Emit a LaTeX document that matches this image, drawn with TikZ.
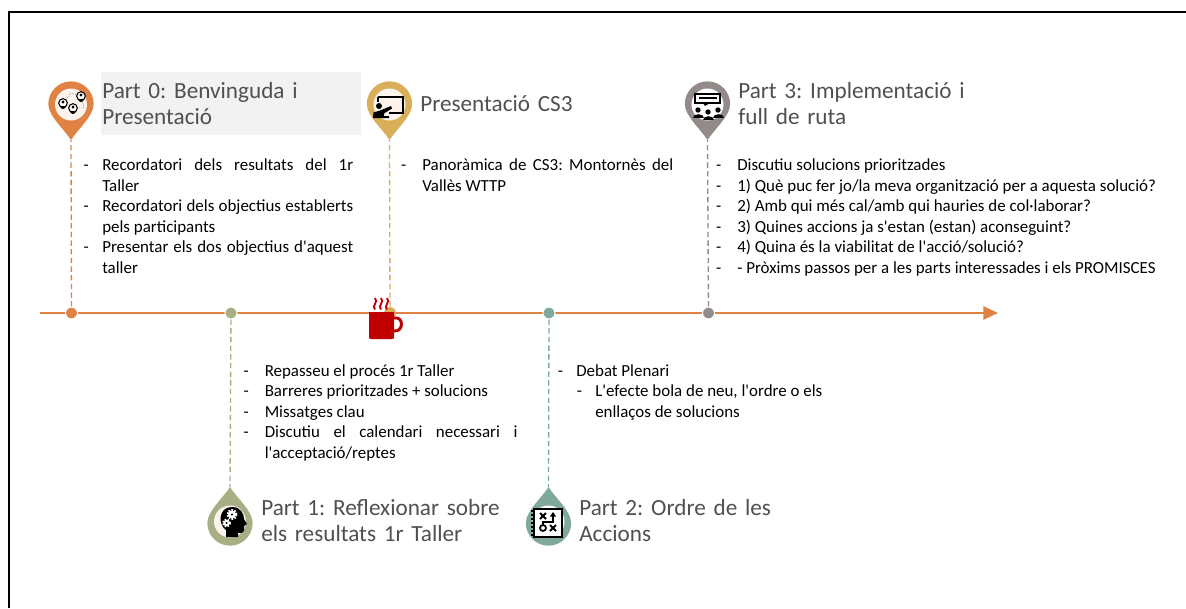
\documentclass[tikz,border=0pt]{standalone}
\usepackage{fontspec}
\setmainfont{Carlito}
\usetikzlibrary{arrows.meta}

\definecolor{orangepin}{HTML}{DF8244}
\definecolor{goldpin}{HTML}{D8AE58}
\definecolor{olivepin}{HTML}{A9AF84}
\definecolor{tealpin}{HTML}{7FA99B}
\definecolor{greypin}{HTML}{938A8A}
\definecolor{titlegrey}{HTML}{505050}
\definecolor{cupred}{HTML}{C00000}
\definecolor{facecol}{HTML}{FBF3EC}

\newenvironment{dashlist}[1][12pt]{\begin{list}{-}{\setlength{\leftmargin}{22.5pt}\setlength{\labelwidth}{10pt}\setlength{\labelsep}{#1}\setlength{\itemsep}{0pt}\setlength{\parsep}{0pt}\setlength{\topsep}{0pt}\setlength{\partopsep}{0pt}\setlength{\rightmargin}{0pt}}\fontsize{12.7}{15.4}\selectfont\frenchspacing\hyphenpenalty=10000\sloppy}{\end{list}}
\newcommand{\apos}{\textquotesingle}

\tikzset{
	heading/.style={anchor=north west,inner sep=0pt,text width=#1,align=left,font=\fontsize{17.4}{19.5}\selectfont\frenchspacing,text=titlegrey},
	listnode/.style={anchor=north west,inner sep=0pt,text width=#1,align=justify},
	tick/.style={circle,fill=#1,draw=white,line width=.8pt,inner sep=0pt,minimum size=9pt},
	stem/.style={draw=#1,line width=1pt,dash pattern=on 4pt off 2.5pt},
	face/.style={circle,fill=facecol,inner sep=0pt,minimum size=24pt}
}

% pin with its tip at #2, #3=1 for the body above the tip, #3=-1 for below
\newcommand{\pinshape}[3]{
	\fill[#1] (#2) .. controls +(-5pt,#3*8pt) and +(0,#3*-9pt) .. ++(-17pt,#3*27pt)
		arc[start angle=180,delta angle=-180,x radius=17pt,y radius=#3*17pt]
		.. controls +(0,#3*-9pt) and +(5pt,#3*8pt) .. (#2) -- cycle;
}

\begin{document}
\begin{tikzpicture}[x=.75pt,y=-.75pt]
\useasboundingbox (0,0) rectangle (1186,608);
\draw[black,line width=1.5pt] (9,608) -- (9,12) -- (1186,12);

\fill[black!5] (101,72) rectangle (361,135);

\coordinate (axisstart) at (40,313);
\coordinate (axisend) at (998,313);
\draw[orangepin,line width=1.5pt,-{Triangle[length=11pt,width=10pt]}] (axisstart) -- (axisend);

% ticks on the axis
\node[tick=orangepin] (t0) at (71.5,313) {};
\node[tick=olivepin] (t1) at (231,313) {};
\node[tick=goldpin,draw=none] (tc) at (390,313) {};
\node[tick=tealpin] (t2) at (549,313) {};
\node[tick=greypin] (t3) at (708.5,313) {};

% tips of the pins
\coordinate (p0) at (71,140);
\coordinate (pc) at (389.5,140);
\coordinate (p3) at (707.5,140);
\coordinate (p1) at (230,487);
\coordinate (p2) at (548.5,487);

\foreach \from/\to/\col in {t0/p0/orangepin,tc/pc/goldpin,t3/p3/greypin,t1/p1/olivepin,t2/p2/tealpin}
	\draw[stem=\col] (\from) -- (\to);

\pinshape{orangepin}{p0}{1}
\pinshape{goldpin}{pc}{1}
\pinshape{greypin}{p3}{1}
\pinshape{olivepin}{p1}{-1}
\pinshape{tealpin}{p2}{-1}

\node[face] (f0) at (71,104.5) {};
\node[face] (fc) at (389.5,104.5) {};
\node[face,fill=white] (f3) at (707.5,104.5) {};
\node[face] (f1) at (230,521.5) {};
\node[face,fill=white] (f2) at (548.5,521.5) {};

% people network
\draw[black,line width=.3pt,densely dotted] (63,103) -- (71,93) -- (81,96) -- (84,108) -- (73,108) -- cycle;
\foreach \px/\py in {63/103,81/96,73/108}{
	\draw[black,line width=.8pt,fill=white] (\px,\py) circle (4.3);
	\fill[black] (\px,\py-1) circle (1.7);
	\fill[black] (\px-3,\py+3) arc[start angle=180,end angle=0,radius=3] -- cycle;
}

% teacher at a board
\draw[black,line width=1.4pt] (378,97) -- (403,97) -- (403,113) -- (389,113);
\draw[black,line width=1.4pt] (378,97) -- (378,102);
\fill[black] (379,106) circle (3);
\fill[black] (373,118) -- (373.5,112.5) -- (380,110.5) -- (391,106) -- (392,108.5) -- (384,113.5) -- (384,116) -- (389,116) -- (389,118) -- cycle;

% screen over people
\draw[black,line width=1.5pt,fill=white] (695,94) rectangle (720,103);
\fill[black] (699,96.5) rectangle (717,99);
\fill[black] (703,103) -- (710,103) -- (705,106) -- cycle;
\foreach \px/\py in {698/110,718/110,708/112}{
	\fill[black] (\px,\py) circle (2.7);
	\fill[black] (\px-5.5,\py+8) .. controls (\px-5.5,\py+2.5) and (\px+5.5,\py+2.5) .. (\px+5.5,\py+8) -- cycle;
}

% head with gears
\fill[black] (226,537) -- (226,530) .. controls (218,525) and (218,507) .. (232,507)
	.. controls (241,507) and (244,514) .. (244,519) -- (247,524) -- (244,526) -- (244,531)
	.. controls (244,533) and (241,533) .. (238,533) -- (238,537) -- cycle;
\foreach \gx/\gy/\gr in {232/514.5/4.6,226.5/523/3.6}{
	\draw[white,line width=1.4pt,dash pattern=on 1.2pt off 1pt] (\gx,\gy) circle (\gr);
	\fill[white] (\gx,\gy) circle (\gr-.5);
	\fill[black] (\gx,\gy) circle (1.2);
}

% notebook with a plan
\draw[black,line width=1.5pt,fill=white] (533.5,508.5) rectangle (562,537);
\foreach \ny in {511,515,519,523,527,531,535}
	\draw[black,line width=.9pt] (531,\ny) -- (535,\ny);
\draw[black,line width=1.5pt] (540,513) -- (546,519) (546,513) -- (540,519);
\draw[black,line width=1.5pt] (550,525) -- (556,531) (556,525) -- (550,531);
\draw[black,line width=1.3pt] (543,528) circle (3);
\draw[black,line width=1.2pt,-{Triangle[length=3.5pt,width=4.5pt]}] (543,525) -- (543,522) -- (553,522) -- (553,512);

% cup on the axis
\fill[cupred] (369,312) -- (394,312) -- (394,337) .. controls (394,339) and (393,339) .. (392,339) -- (371,339) .. controls (370,339) and (369,339) .. (369,337) -- cycle;
\draw[cupred,line width=2.2pt] (394,318) .. controls (404,316) and (404,332) .. (394,331);
\foreach \sx in {375,381,387}
	\draw[cupred,line width=1.4pt] (\sx,309.5) .. controls (\sx-4,306) and (\sx+4,302) .. (\sx,298);

% titles
\node[heading=195pt] (title0) at (102,82.5) {Part 0: Benvinguda i\\Presentació};
\node[heading=195pt] (titlec) at (420,95.5) {Presentació CS3};
\node[heading=195pt] (title3) at (738,82.5) {Part 3: Implementació i\\full de ruta};
\node[heading=195pt] (title1) at (261,499.5) {Part 1: Reflexionar sobre\\els resultats 1r Taller};
\node[heading=195pt] (title2) at (579,499.5) {Part 2: Ordre de les\\Accions};

% lists
\node[listnode=210.75pt] (list0) at (72,150) {\begin{dashlist}[10pt]
	\item Recordatori dels resultats del 1r\linebreak Taller
	\item Recordatori dels objectius establerts\linebreak pels participants
	\item Presentar els dos objectius d\apos{}aquest\linebreak taller
\end{dashlist}};
\node[listnode=210.75pt] (listc) at (392,150) {\begin{dashlist}
	\item Panoràmica de CS3: Montornès del\linebreak Vallès WTTP
\end{dashlist}};
\node[listnode=360pt] (list3) at (707,150) {\begin{dashlist}\raggedright
	\item Discutiu solucions prioritzades
	\item 1) Què puc fer jo/la meva organització per a aquesta solució?
	\item 2) Amb qui més cal/amb qui hauries de col·laborar?
	\item 3) Quines accions ja s\apos{}estan (estan) aconseguint?
	\item 4) Quina és la viabilitat de l\apos{}acció/solució?
	\item - Pròxims passos per a les parts interessades i els PROMISCES
\end{dashlist}};
\node[listnode=212pt] (list1) at (234.5,355.5) {\begin{dashlist}
	\item Repasseu el procés 1r Taller
	\item Barreres prioritzades + solucions
	\item Missatges clau
	\item Discutiu el calendari necessari i\linebreak l\apos{}acceptació/reptes
\end{dashlist}};
\node[listnode=201pt] (list2) at (546,355.5) {\begin{dashlist}[10pt]
	\item Debat Plenari
\end{dashlist}};
\node[listnode=200pt] (list2b) at (565,376) {\begin{dashlist}[10pt]\raggedright
	\item L\apos{}efecte bola de neu, l\apos{}ordre o els enllaços de solucions
\end{dashlist}};

\end{tikzpicture}
\end{document}
